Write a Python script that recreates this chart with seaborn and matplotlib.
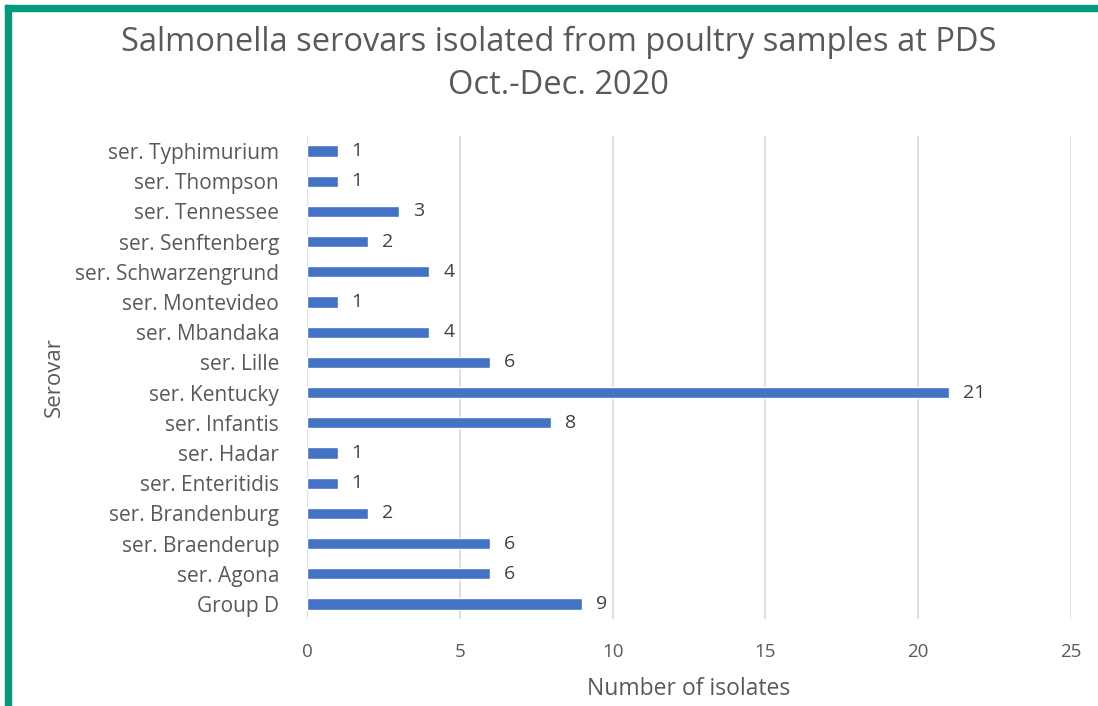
import matplotlib
matplotlib.use("Agg")
import matplotlib.pyplot as plt
import seaborn as sns
import pandas as pd
from matplotlib.patches import Rectangle

serovars = [
    "ser. Typhimurium", "ser. Thompson", "ser. Tennessee", "ser. Senftenberg",
    "ser. Schwarzengrund", "ser. Montevideo", "ser. Mbandaka", "ser. Lille",
    "ser. Kentucky", "ser. Infantis", "ser. Hadar", "ser. Enteritidis",
    "ser. Brandenburg", "ser. Braenderup", "ser. Agona", "Group D",
]
isolates = [1, 1, 3, 2, 4, 1, 4, 6, 21, 8, 1, 1, 2, 6, 6, 9]
x_ticks = [0, 5, 10, 15, 20, 25]

df = pd.DataFrame({"Serovar": serovars, "Isolates": isolates})

sns.set_theme(style="white")
plt.rcParams["font.family"] = ["Open Sans", "DejaVu Sans"]

text_grey = "#595959"
bar_blue = "#4472C4"

fig = plt.figure(figsize=(10.98, 7.06), dpi=100)
ax = fig.add_axes([0.2796, 0.1232, 0.6958, 0.6842])

sns.barplot(data=df, x="Isolates", y="Serovar", orient="h", color=bar_blue,
            width=0.37, saturation=1, ax=ax, zorder=3)

for i, v in enumerate(isolates):
    ax.annotate(f"{v}", xy=(v, i), xytext=(10, 0), textcoords="offset points",
                ha="left", va="center", fontsize=14, color="#404040")

ax.set_xlim(0, 25)
ax.set_xticks(x_ticks)
ax.set_xticklabels([str(t) for t in x_ticks])
ax.grid(axis="x", color="#D9D9D9", linewidth=1.2, zorder=0)
ax.set_axisbelow(True)
for s in ax.spines.values():
    s.set_visible(False)
ax.tick_params(axis="both", length=0, colors=text_grey)
ax.tick_params(axis="x", labelsize=13.5, pad=17)
ax.tick_params(axis="y", labelsize=15, pad=20)

ax.set_xlabel("Number of isolates", fontsize=16.5, color=text_grey)
ax.xaxis.label.set_va("center")
ax.xaxis.set_label_coords(0.499, -0.145)
ax.set_ylabel("Serovar", fontsize=16, color=text_grey)
ax.yaxis.label.set_va("center")
ax.yaxis.set_label_coords(-0.331, 0.5)

fig.text(0.5087, 1 - 42 / 706, "Salmonella serovars isolated from poultry samples at PDS",
         ha="center", va="center", fontsize=23.5, color=text_grey)
fig.text(0.5087, 1 - 85 / 706, "Oct.-Dec. 2020",
         ha="center", va="center", fontsize=23.5, color=text_grey)

# Teal frame along the left and top edges
teal = "#009B7D"
fig.patches.append(Rectangle((5 / 1098, 0), 6 / 1098, 1 - 5 / 706,
                             transform=fig.transFigure, color=teal, zorder=10))
fig.patches.append(Rectangle((5 / 1098, 1 - 11 / 706), 1, 6 / 706,
                             transform=fig.transFigure, color=teal, zorder=10))

fig.savefig("out.png", dpi=100)
